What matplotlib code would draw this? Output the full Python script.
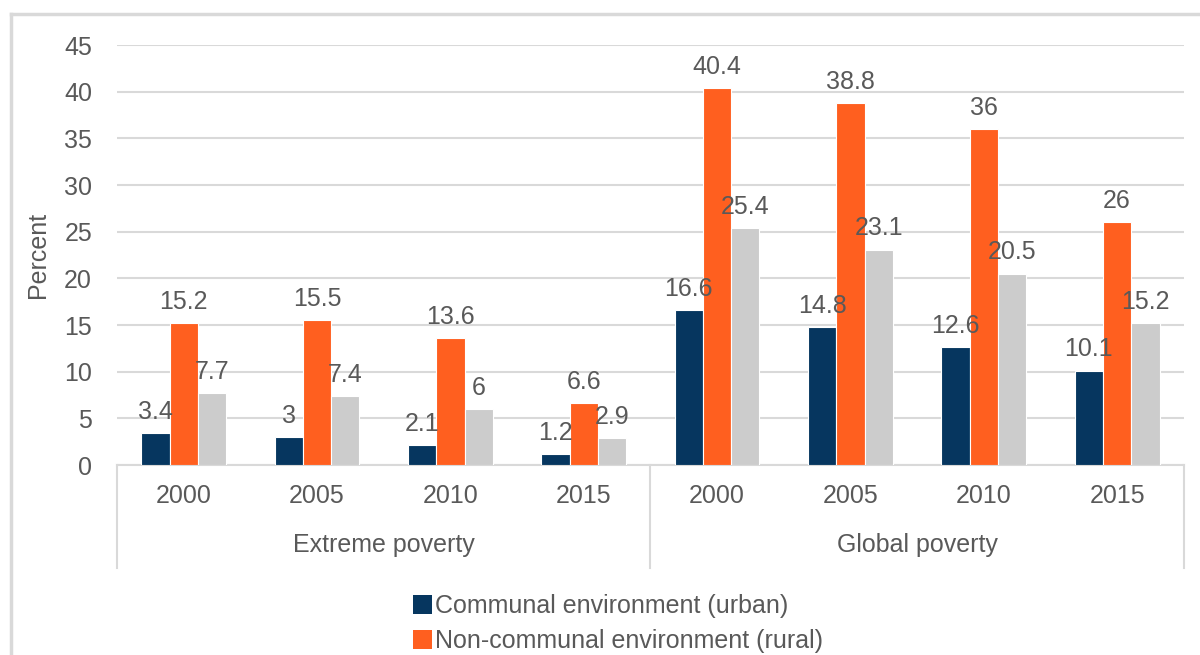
import matplotlib
matplotlib.use('Agg')
import matplotlib.pyplot as plt
from matplotlib.lines import Line2D
from matplotlib.patches import Patch
import numpy as np

# data
groups = ['Extreme poverty', 'Global poverty']
years = ['2000', '2005', '2010', '2015']
urban = [3.4, 3, 2.1, 1.2, 16.6, 14.8, 12.6, 10.1]
rural = [15.2, 15.5, 13.6, 6.6, 40.4, 38.8, 36, 26]
total = [7.7, 7.4, 6, 2.9, 25.4, 23.1, 20.5, 15.2]
series_names = ['Communal environment (urban)', 'Non-communal environment (rural)']

navy = '#06365f'
orange = '#ff5f1f'
grey = '#cccccc'
txt = '#595959'
linecol = '#d9d9d9'

plt.rcParams['font.family'] = ['Liberation Sans', 'DejaVu Sans']
fs = 18

fig = plt.figure(figsize=(12, 6.55), dpi=100)
ax = fig.add_axes([0.0975, 0.29, 0.889, 0.641])

x = np.arange(len(urban))
w = 0.212
for off, vals, col in [(-w, urban, navy), (0, rural, orange), (w, total, grey)]:
    bars = ax.bar(x + off, vals, w, color=col, edgecolor='white', linewidth=0.8, zorder=3)
    for b, v in zip(bars, vals):
        ax.text(b.get_x() + b.get_width() / 2, v + 1.0, f'{v:g}', ha='center', va='bottom',
                fontsize=fs, color=txt, zorder=4)

ax.set_xlim(-0.5, 7.5)
ax.set_ylim(0, 45)
ax.set_yticks(range(0, 46, 5))
ax.yaxis.grid(True, color=linecol, linewidth=1.5, zorder=0)
ax.tick_params(axis='y', length=0, labelsize=fs, labelcolor=txt, pad=18)
ax.set_xticks([])
for s in ['top', 'right', 'left']:
    ax.spines[s].set_visible(False)
ax.spines['bottom'].set_color(linecol)
ax.spines['bottom'].set_linewidth(1.5)
ax.set_ylabel('Percent', fontsize=fs, color=txt, labelpad=10)

# two-level category axis
tr = ax.get_xaxis_transform()
for xv in [-0.5, 3.5, 7.5]:
    ax.add_line(Line2D([xv, xv], [0, -0.245], transform=tr, color=linecol, linewidth=1.5, clip_on=False))
for i in range(len(urban)):
    ax.text(i, -0.074, years[i % 4], transform=tr, ha='center', va='center', fontsize=fs, color=txt)
for j, g in enumerate(groups):
    ax.text(1.5 + 4 * j, -0.19, g, transform=tr, ha='center', va='center', fontsize=fs, color=txt)

# chart border
fig.add_artist(Line2D([0.0095, 1.0], [0.979, 0.979], transform=fig.transFigure, color=linecol, linewidth=2.5))
fig.add_artist(Line2D([0.0095, 0.0095], [0.979, 0.0], transform=fig.transFigure, color=linecol, linewidth=2.5))

handles = [Patch(facecolor=navy), Patch(facecolor=orange)]
fig.legend(handles, series_names, loc='upper left', bbox_to_anchor=(0.344, 0.093), frameon=False,
           fontsize=fs, labelcolor=txt, handlelength=0.75, handleheight=0.8, handletextpad=0.15,
           labelspacing=0.45, borderaxespad=0, borderpad=0)

fig.savefig('out.png', dpi=100)
